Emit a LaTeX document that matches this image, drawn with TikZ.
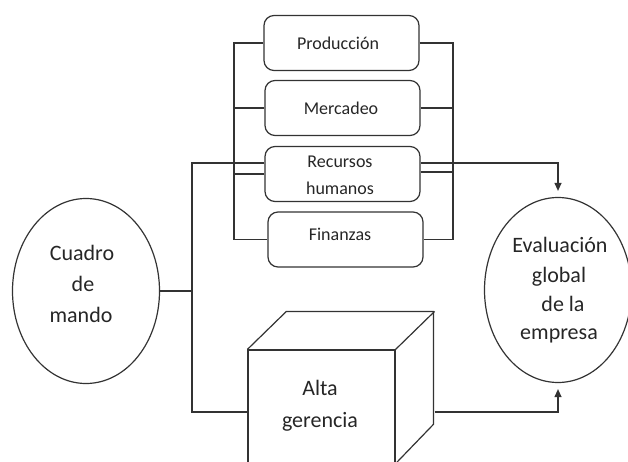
\documentclass[tikz,border=0pt]{standalone}
\usepackage{fontspec}
\setmainfont{Carlito}
\usetikzlibrary{shapes.geometric,arrows.meta}
\begin{document}
\begin{tikzpicture}[x=1pt,y=-1pt,
  ln/.style={draw=black!80,line width=1.2pt},
  box/.style={ln, rounded corners=10pt, minimum width=155pt, minimum height=55pt, inner sep=0pt},
  oval/.style={ln, ellipse, minimum width=147pt, minimum height=185pt, inner sep=0pt},
  bt/.style={font=\fontsize{18}{27}\selectfont, text=black!85, anchor=base, inner sep=0pt},
  bigt/.style={font=\fontsize{22}{30}\selectfont, text=black!85, anchor=base, inner sep=0pt},
  arr/.style={ln, -{Triangle[length=8pt,width=7pt]}, shorten >=6pt}
]
\useasboundingbox (0,0) rectangle (628,462);

% department boxes
\node[box] (prod) at (341.5,43) {};
\node[box] (merc) at (342.5,108) {};
\node[box] (rrhh) at (342.5,174) {};
\node[box] (fin) at (345.5,239.5) {};
\node[bt] (tprod) at (338,50) {Producción};
\node[bt] (tmerc) at (341,115) {Mercadeo};
\node[bt] (trec) at (340,168) {Recursos};
\node[bt] (thum) at (340,195) {humanos};
\node[bt] (tfin) at (340,240) {Finanzas};

% ellipses
\node[oval] (cm) at (86,291) {};
\node[bigt] (t1) at (82,260) {Cuadro};
\node[bigt] (t2) at (83,291) {de};
\node[bigt] (t3) at (81,322) {mando};
\node[oval] (eval) at (558,290) {};
\node[bigt] (e1) at (560,252) {Evaluación};
\node[bigt] (e2) at (559,282) {global};
\node[bigt] (e3) at (563,311) {de la};
\node[bigt] (e4) at (559,339) {empresa};

% cube
\node[ln, minimum width=147pt, minimum height=113pt, inner sep=0pt] (alta) at (321.5,406.5) {};
\draw[ln] (alta.north west) -- ++(39,-38) -- ++(147,0) -- ++(0,113) -- (alta.south east);
\draw[ln] (alta.north east) -- ++(39,-38);
\node[bigt] (a1) at (320,395) {Alta};
\node[bigt] (a2) at (320,427) {gerencia};

% buses
\coordinate (lbx) at (234,0);
\coordinate (rbx) at (453,0);
\draw[ln] (prod.west) -- (prod.west -| lbx) |- (fin.west);
\draw[ln] (merc.west) -- (merc.west -| lbx);
\draw[ln] (rrhh.west) -- (rrhh.west -| lbx);
\draw[ln] (prod.east) -- (prod.east -| rbx) |- (fin.east);
\draw[ln] (merc.east) -- (merc.east -| rbx);
\draw[ln] ([yshift=2pt]rrhh.east) -- ([yshift=2pt]rrhh.east -| rbx);

% main connectors
\coordinate (top) at (192,163);
\coordinate (bot) at (192,412);
\coordinate (cubeR) at ([xshift=39pt]alta.east);
\draw[ln] (rrhh.west |- top) -- (top) -- (bot) -- (bot -| alta.west);
\draw[ln] (cm.east) -- (cm.east -| top);
\draw[arr] (rrhh.east |- top) -| (eval.north);
\draw[arr] (bot -| cubeR) -| (eval.south);
\end{tikzpicture}
\end{document}
